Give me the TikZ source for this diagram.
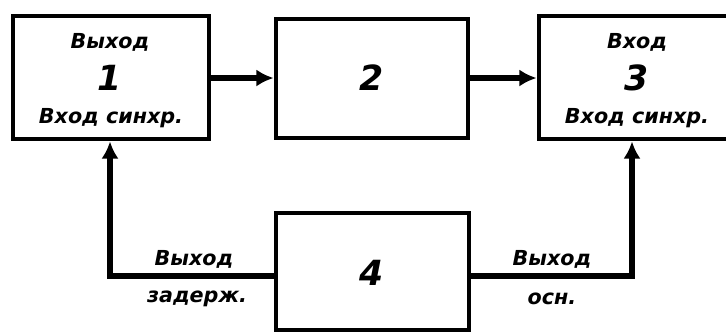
\documentclass[tikz,border=0pt]{standalone}
\usepackage{fontspec}
\setmainfont{DejaVu Sans}
\usetikzlibrary{arrows.meta}
\tikzset{
  blk/.style 2 args={draw, line width=3.6pt, minimum width=#1*0.75pt, minimum height=#2*0.75pt, inner sep=0pt},
  conn/.style={line width=4.8pt},
  arr/.style={conn, -{Latex[length=13pt,width=13pt]}},
  lbl/.style={font=\bfseries\itshape\fontsize{15.5pt}{18pt}\selectfont, inner sep=0pt},
  num/.style={font=\bfseries\itshape\fontsize{26pt}{28pt}\selectfont, inner sep=0pt},
}
\begin{document}
\begin{tikzpicture}[x=0.75pt,y=-0.75pt]
\useasboundingbox (0,0) rectangle (726,333);
\clip (0,0) rectangle (726,333);
% boxes
\node[blk={196}{123}] (b1) at (111,77.5) {};
\node[blk={192}{119}] (b2) at (372,78.5) {};
\node[blk={240}{123}] (b3) at (659,77.5) {};
\node[blk={193}{117}] (b4) at (372.5,271.5) {};
% texts
\node[lbl] (t1a) at (110,42) {Выход};
\node[num] (t1b) at (110,78) {1};
\node[lbl] (t1c) at (111,118) {Вход синхр.};
\node[num] (t2) at (372,78) {2};
\node[lbl] (t3a) at (637,42) {Вход};
\node[num] (t3b) at (637,78) {3};
\node[lbl] (t3c) at (637,118) {Вход синхр.};
\node[num] (t4) at (372,273) {4};
\node[lbl] (l1a) at (194,259) {Выход};
\node[lbl] (l1b) at (197,299) {задерж.};
\node[lbl] (l2a) at (552,259) {Выход};
\node[lbl] (l2b) at (552,299) {осн.};
% connectors
\coordinate (cl) at (110,276);
\coordinate (cr) at (632,276);
\draw[arr] (b1.east |- 0,78) -- (b2.west |- 0,78);
\draw[arr] (b2.east |- 0,78) -- (b3.west |- 0,78);
\draw[arr] (b4.west |- cl) -- (cl) -- (cl |- b1.south);
\draw[arr] (b4.east |- cr) -- (cr) -- (cr |- b3.south);
\end{tikzpicture}
\end{document}
